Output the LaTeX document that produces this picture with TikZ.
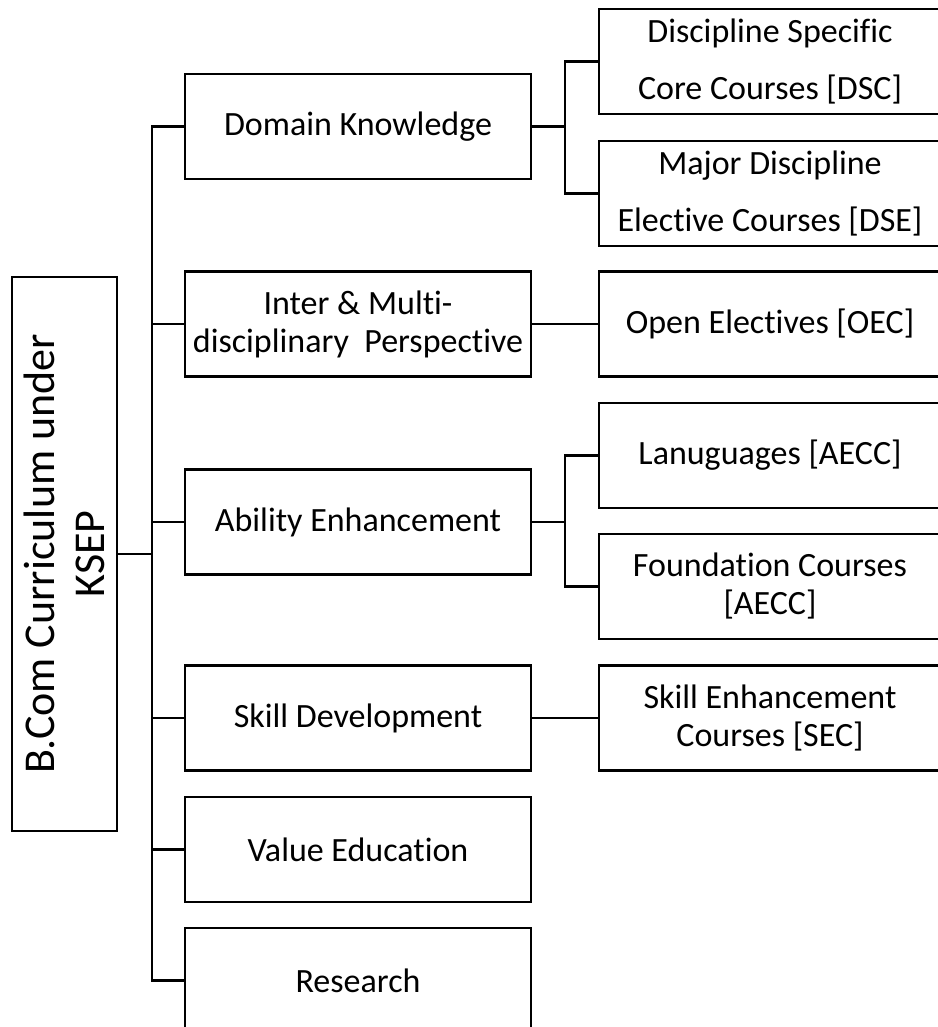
\documentclass[tikz,border=0pt]{standalone}
\usepackage{fontspec}
\setmainfont{Carlito}[Ligatures=NoCommon]
\tikzset{
 link/.style={line width=2.6pt},
 rootbox/.style={draw,line width=2.6pt,rotate=90,minimum width=554pt,minimum height=105pt,inner sep=0,align=center,font=\fontsize{44}{50}\selectfont},
 areabox/.style={draw,line width=2.6pt,minimum width=346pt,minimum height=105pt,inner sep=0,align=center,font=\fontsize{34}{38}\selectfont},
 coursebox/.style={areabox,minimum width=342pt},
 tallcourse/.style={coursebox,font=\fontsize{34}{57}\selectfont}
}
\begin{document}
\begin{tikzpicture}[x=1pt,y=-1pt]
\path[use as bounding box] (0,0) rectangle (937,1027);
% curriculum
\node[rootbox] (root) at (64.5,554) {B.Com Curriculum under\\KSEP};
% areas
\node[areabox] (dom) at (358,126.5) {Domain Knowledge};
\node[areabox] (inter) at (358,324) {Inter \& Multi-\\disciplinary\ \ Perspective};
\node[areabox] (abil) at (358,522) {Ability Enhancement};
\node[areabox] (skill) at (358,718) {Skill Development};
\node[areabox] (value) at (358,849.5) {Value Education};
\node[areabox] (res) at (358,980.5) {Research};
% courses
\node[tallcourse] (dsc) at (770,61.5) {Discipline Specific\\Core Courses [DSC]};
\node[tallcourse] (dse) at (770,193.5) {Major Discipline\\Elective Courses [DSE]};
\node[coursebox] (oec) at (770,324) {Open Electives [OEC]};
\node[coursebox] (lang) at (770,455.5) {Lanuguages [AECC]};
\node[coursebox] (found) at (770,586.5) {Foundation Courses\\{}[AECC]};
\node[coursebox] (sec) at (770,718) {Skill Enhancement\\Courses [SEC]};
% junctions
\coordinate (tk) at (152,554);
\coordinate (dk) at (565,126.5);
\coordinate (ak) at (565,522);
\draw[link] (root.south) -- (tk);
\foreach \m in {dom,inter,abil,skill,value,res}
  \draw[link] (tk) |- (\m.west);
\draw[link] (dom.east) -- (dk);
\draw[link] (dk) |- (dsc.west);
\draw[link] (dk) |- (dse.west);
\draw[link] (abil.east) -- (ak);
\draw[link] (ak) |- (lang.west);
\draw[link] (ak) |- (found.west);
\draw[link] (inter.east) -- (oec.west);
\draw[link] (skill.east) -- (sec.west);
\end{tikzpicture}
\end{document}
